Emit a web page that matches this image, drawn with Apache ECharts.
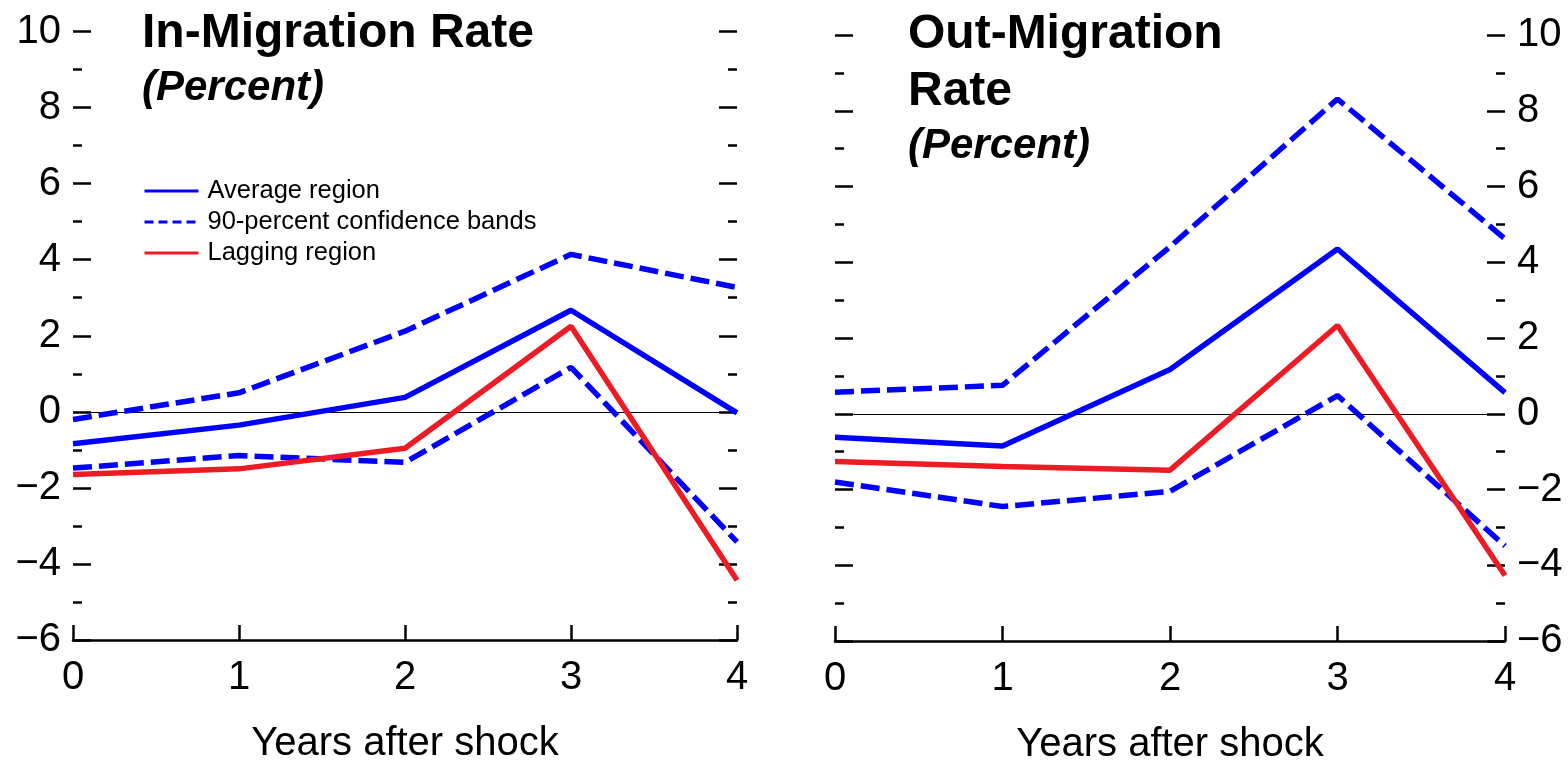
<!DOCTYPE html>
<html>
<head>
<meta charset="utf-8">
<script src="https://cdn.jsdelivr.net/npm/echarts@6/dist/echarts.min.js"></script>
<style>html,body{margin:0;padding:0;background:#fff}#c{width:1568px;height:762px}</style>
</head>
<body>
<div id="c"></div>
<script>
const years = ['0', '1', '2', '3', '4'];
const yTicks = { min: -6, max: 10, interval: 2 };
// In-Migration panel
const inAvg = [-0.84, -0.35, 0.38, 2.67, -0.03];
const inUpper = [-0.20, 0.50, 2.12, 4.14, 3.27];
const inLower = [-1.48, -1.15, -1.33, 1.17, -3.42];
const inLag = [-1.65, -1.50, -0.96, 2.25, -4.43];
// Out-Migration panel
const outAvg = [-0.62, -0.85, 1.17, 4.35, 0.56];
const outUpper = [0.57, 0.75, 4.41, 8.31, 4.62];
const outLower = [-1.80, -2.45, -2.05, 0.48, -3.49];
const outLag = [-1.26, -1.39, -1.49, 2.33, -4.27];

const FONT = '"Liberation Sans", Arial, Helvetica, sans-serif';
const BLUE = '#0000FF', RED = '#ED1C24';
const NAME_AVG = 'Average region', NAME_CI = '90-percent confidence bands', NAME_LAG = 'Lagging region';

function yAxisDef(grid, pos, showLabel) {
  return {
    type: 'value', gridIndex: grid, position: pos,
    min: yTicks.min, max: yTicks.max, interval: yTicks.interval,
    axisLine: { show: false, onZero: false },
    axisTick: { show: true, inside: true, length: 18, lineStyle: { color: '#000', width: 2.5 } },
    minorTick: { show: true, splitNumber: 2, length: 9, lineStyle: { color: '#000', width: 2.5 } },
    splitLine: { show: false }, minorSplitLine: { show: false },
    axisLabel: {
      show: showLabel, fontSize: 40, color: '#000', fontFamily: FONT, margin: 12,
      formatter: v => v < 0 ? '\u2212' + Math.abs(v) : String(v)
    }
  };
}
function xAxisDef(grid) {
  return {
    type: 'category', gridIndex: grid, data: years, boundaryGap: false,
    axisLine: { show: true, onZero: false, lineStyle: { color: '#000', width: 2.5 } },
    axisTick: { show: true, inside: true, length: 15, lineStyle: { color: '#000', width: 2.5 } },
    axisLabel: { fontSize: 40, color: '#000', fontFamily: FONT, margin: 18 },
    splitLine: { show: false },
    name: 'Years after shock', nameLocation: 'middle', nameGap: 84,
    nameTextStyle: { fontSize: 40, color: '#000', fontFamily: FONT }
  };
}
function lineSeries(name, data, xi, yi, color, dashed, withZero) {
  const s = {
    name: name, type: 'line', data: data, xAxisIndex: xi, yAxisIndex: yi,
    symbol: 'none', showSymbol: false, smooth: false,
    lineStyle: { color: color, width: 5.5, type: dashed ? [19, 7] : 'solid' },
    itemStyle: { color: color }, z: 3
  };
  if (withZero) {
    s.markLine = {
      silent: true, symbol: ['none', 'none'], label: { show: false },
      lineStyle: { color: '#000', width: 1, type: 'solid' },
      data: [{ yAxis: 0 }], animation: false, z: 1
    };
  }
  return s;
}

const chart = echarts.init(document.getElementById('c'));
const hidden = { opacity: 0, color: 'rgba(0,0,0,0)', borderWidth: 0 };
chart.setOption({
  animation: false,
  backgroundColor: '#fff',
  textStyle: { fontFamily: FONT },
  title: [
    {
      text: 'In-Migration Rate', subtext: '(Percent)', left: 142, top: 5, padding: 0, itemGap: 2,
      textStyle: { fontSize: 48, fontWeight: 'bold', color: '#000', fontFamily: FONT, lineHeight: 57 },
      subtextStyle: { fontSize: 42, fontWeight: 'bold', fontStyle: 'italic', color: '#000', fontFamily: FONT, lineHeight: 48 }
    },
    {
      text: 'Out-Migration\nRate', subtext: '(Percent)', left: 908, top: 6, padding: 0, itemGap: 2,
      textStyle: { fontSize: 48, fontWeight: 'bold', color: '#000', fontFamily: FONT, lineHeight: 57 },
      subtextStyle: { fontSize: 42, fontWeight: 'bold', fontStyle: 'italic', color: '#000', fontFamily: FONT, lineHeight: 48 }
    }
  ],
  legend: {
    orient: 'vertical', left: 143, top: 178, padding: 0, itemGap: 5,
    itemWidth: 54, itemHeight: 14,
    itemStyle: hidden,
    textStyle: { fontSize: 25.5, color: '#000', fontFamily: FONT, lineHeight: 25, padding: [0, 0, 0, 4] },
    data: [
      { name: NAME_AVG, lineStyle: { width: 3 }, itemStyle: hidden },
      { name: NAME_CI, lineStyle: { width: 3, type: [9, 5] }, itemStyle: hidden },
      { name: NAME_LAG, lineStyle: { width: 3 }, itemStyle: hidden }
    ]
  },
  grid: [
    { left: 73, right: 1568 - 737, top: 31.5, bottom: 762 - 640, outerBoundsMode: 'none', containLabel: false },
    { left: 835, right: 1568 - 1505, top: 35, bottom: 762 - 641, outerBoundsMode: 'none', containLabel: false }
  ],
  xAxis: [xAxisDef(0), xAxisDef(1)],
  yAxis: [yAxisDef(0, 'left', true), yAxisDef(0, 'right', false), yAxisDef(1, 'left', false), yAxisDef(1, 'right', true)],
  series: [
    lineSeries(NAME_AVG, inAvg, 0, 0, BLUE, false, true),
    lineSeries(NAME_CI, inUpper, 0, 0, BLUE, true, false),
    lineSeries(NAME_CI, inLower, 0, 0, BLUE, true, false),
    lineSeries(NAME_LAG, inLag, 0, 0, RED, false, false),
    lineSeries(NAME_AVG, outAvg, 1, 2, BLUE, false, true),
    lineSeries(NAME_CI, outUpper, 1, 2, BLUE, true, false),
    lineSeries(NAME_CI, outLower, 1, 2, BLUE, true, false),
    lineSeries(NAME_LAG, outLag, 1, 2, RED, false, false)
  ]
});
</script>
</body>
</html>
